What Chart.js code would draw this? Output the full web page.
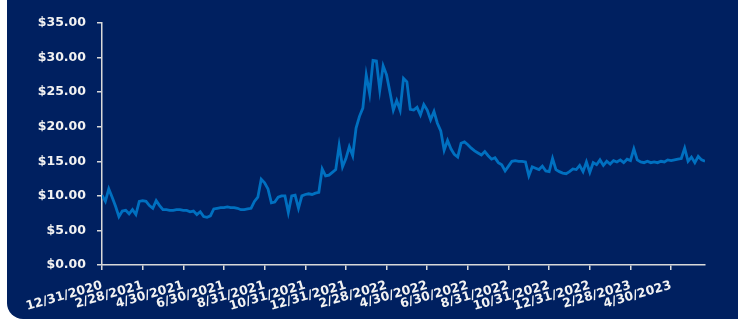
<!DOCTYPE html>
<html>
<head>
<meta charset="utf-8">
<script src="https://cdn.jsdelivr.net/npm/chart.js@4.4.0/dist/chart.umd.min.js"></script>
<style>
  html, body { margin: 0; padding: 0; background: #ffffff; }
  #bg { position: absolute; left: 7px; top: 0; width: 731px; height: 319px; background: #002060; border-bottom-left-radius: 16px; }
  #wrap { position: absolute; left: 0; top: 0; width: 738px; height: 320px; }
</style>
</head>
<body>
<div id="bg"></div>
<div id="wrap"><canvas id="c" width="738" height="320"></canvas></div>
<script>
// Tick labels (every 2 months), 12 samples per tick interval
const tickLabels = ["12/31/2020","2/28/2021","4/30/2021","6/30/2021","8/31/2021","10/31/2021","12/31/2021","2/28/2022","4/30/2022","6/30/2022","8/31/2022","10/31/2022","12/31/2022","2/28/2023","4/30/2023"];
const samplesPerTick = 12;
// Price series (approx. every 5 days)
const prices = [
 10.1, 9.2, 11.0, 9.8, 8.5, 7.0, 7.8, 7.9, 7.4, 8.0,
 7.3, 9.2, 9.3, 9.2, 8.6, 8.2, 9.3, 8.6, 8.0, 8.0,
 7.9, 7.9, 8.0, 8.0, 7.9, 7.9, 7.7, 7.8, 7.3, 7.7,
 7.0, 6.9, 7.1, 8.1, 8.2, 8.3, 8.3, 8.4, 8.3, 8.3,
 8.2, 8.0, 8.0, 8.1, 8.2, 9.2, 9.8, 12.4, 11.9, 11.0,
 9.0, 9.1, 9.8, 10.0, 10.0, 7.6, 10.0, 10.1, 8.2, 10.0,
 10.2, 10.3, 10.2, 10.4, 10.5, 13.9, 12.9, 13.0, 13.4, 13.8,
 17.3, 14.2, 15.4, 17.1, 15.8, 19.8, 21.5, 22.7, 27.5, 24.8,
 29.6, 29.5, 25.3, 28.8, 27.5, 25.0, 22.4, 23.8, 22.4, 27.0,
 26.5, 22.5, 22.4, 22.8, 21.7, 23.2, 22.4, 21.0, 22.2, 20.5,
 19.4, 16.6, 18.0, 16.8, 16.0, 15.6, 17.6, 17.8, 17.4, 16.9,
 16.5, 16.2, 15.9, 16.4, 15.8, 15.3, 15.5, 14.8, 14.5, 13.6,
 14.3, 15.0, 15.1, 15.0, 15.0, 14.9, 12.9, 14.2, 14.0, 13.8,
 14.3, 13.6, 13.5, 15.4, 13.8, 13.5, 13.3, 13.2, 13.5, 13.9,
 13.8, 14.4, 13.5, 14.9, 13.4, 14.8, 14.5, 15.2, 14.4, 15.0,
 14.6, 15.1, 14.9, 15.2, 14.8, 15.3, 15.1, 16.8, 15.2, 14.9,
 14.8, 15.0, 14.8, 14.9, 14.8, 15.0, 14.9, 15.2, 15.1, 15.2,
 15.3, 15.4, 16.9, 15.0, 15.6, 14.8, 15.7, 15.2, 15.0
];
const yTicks = [0, 5, 10, 15, 20, 25, 30, 35];

const points = prices.map((v, i) => ({ x: i, y: v }));
const labelFont = { family: "'DejaVu Sans', Verdana, sans-serif", size: 12.5, weight: 'bold' };
const axisColor = '#D9D9D9';
const textColor = '#F2F2F2';

new Chart(document.getElementById('c'), {
  type: 'line',
  data: {
    datasets: [{
      data: points,
      borderColor: '#0070C0',
      borderWidth: 2.8,
      pointRadius: 0,
      tension: 0,
      fill: false
    }]
  },
  options: {
    responsive: false,
    devicePixelRatio: 1,
    animation: false,
    layout: { padding: { top: 23, right: 33, left: 0, bottom: 0 } },
    plugins: { legend: { display: false }, tooltip: { enabled: false } },
    scales: {
      x: {
        type: 'linear',
        min: 0,
        max: prices.length - 1,
        afterBuildTicks: (s) => {
          s.ticks = tickLabels.map((t, k) => ({ value: k * samplesPerTick }));
        },
        afterFit: (s) => { s.height = 55; },
        ticks: {
          autoSkip: false,
          maxRotation: 16,
          minRotation: 16,
          padding: 8,
          color: textColor,
          font: labelFont,
          callback: (v) => tickLabels[Math.round(v / samplesPerTick)] || ''
        },
        grid: { drawOnChartArea: false, drawTicks: true, tickLength: 5, color: axisColor, lineWidth: 1.5 },
        border: { color: axisColor, width: 1.5 }
      },
      y: {
        min: 0,
        max: 35,
        afterBuildTicks: (s) => { s.ticks = yTicks.map(v => ({ value: v })); },
        afterFit: (s) => { s.width = 102; },
        ticks: {
          padding: 11,
          color: textColor,
          font: labelFont,
          callback: (v) => '$' + Number(v).toFixed(2)
        },
        grid: { drawOnChartArea: false, drawTicks: true, tickLength: 5, color: axisColor, lineWidth: 1.5 },
        border: { color: axisColor, width: 1.5 }
      }
    }
  }
});
</script>
</body>
</html>
